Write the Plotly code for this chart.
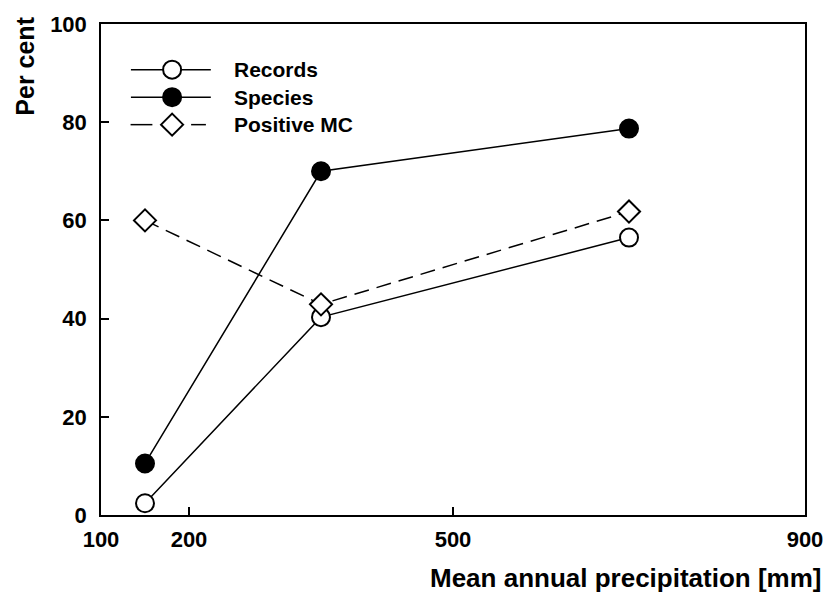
import plotly.graph_objects as go

# Data
precip = [150, 350, 700]
records = [2.4, 40.3, 56.5]
species = [10.5, 70.0, 78.7]
positive_mc = [60.0, 42.9, 61.8]

x_ticks = [100, 200, 500, 900]
y_ticks = [0, 20, 40, 60, 80, 100]

legend_names = ["Records", "Species", "Positive MC"]

FONT = "Liberation Sans, Arial, Helvetica, sans-serif"
BLACK = "black"

fig = go.Figure()

line_w = 1.5
mk_line = dict(color=BLACK, width=2)

fig.add_trace(go.Scatter(x=precip, y=records, mode="lines+markers",
                         line=dict(color=BLACK, width=line_w),
                         marker=dict(symbol="circle", size=18, color="white", line=mk_line),
                         showlegend=False, cliponaxis=False))
fig.add_trace(go.Scatter(x=precip, y=species, mode="lines+markers",
                         line=dict(color=BLACK, width=line_w),
                         marker=dict(symbol="circle", size=18, color=BLACK, line=mk_line),
                         showlegend=False, cliponaxis=False))
fig.add_trace(go.Scatter(x=precip, y=positive_mc, mode="lines+markers",
                         line=dict(color=BLACK, width=line_w, dash="15px,8px"),
                         marker=dict(symbol="diamond", size=17, color="white", line=mk_line),
                         showlegend=False, cliponaxis=False))

# Custom legend drawn on an overlay axis (0..1 over the plot area)
leg_y = [0.907, 0.851, 0.795]
leg_xm = 0.101
leg_lines = [
    ([0.0425, 0.156], [True, True]),
    ([0.0425, 0.156], [True, True]),
    ([0.042, 0.073, None, 0.128, 0.149], None),
]
marker_styles = [
    dict(symbol="circle", size=18, color="white", line=mk_line),
    dict(symbol="circle", size=18, color=BLACK, line=mk_line),
    dict(symbol="diamond", size=17, color="white", line=mk_line),
]
for ly, (lx, _), ms, name in zip(leg_y, leg_lines, marker_styles, legend_names):
    fig.add_trace(go.Scatter(x=lx, y=[ly if v is not None else None for v in lx], mode="lines",
                             line=dict(color=BLACK, width=line_w), connectgaps=False,
                             xaxis="x2", yaxis="y2", showlegend=False, hoverinfo="skip"))
    fig.add_trace(go.Scatter(x=[leg_xm], y=[ly], mode="markers", marker=ms,
                             xaxis="x2", yaxis="y2", showlegend=False, hoverinfo="skip"))
    fig.add_annotation(x=0.186, y=ly, xref="paper", yref="paper", text=name,
                       showarrow=False, xanchor="left", yanchor="middle",
                       font=dict(family=FONT, size=21, color=BLACK, weight="bold"))

fig.update_layout(
    width=835, height=599,
    margin=dict(l=101, r=22, t=20, b=84),
    paper_bgcolor="white", plot_bgcolor="white",
    showlegend=False,
    xaxis=dict(range=[100, 900], tickvals=x_ticks, ticktext=[str(v) for v in x_ticks],
               ticks="inside", ticklen=8, tickwidth=1.5, tickcolor=BLACK,
               showline=True, linecolor=BLACK, linewidth=1.5, mirror=True,
               showgrid=False, zeroline=False,
               tickfont=dict(family=FONT, size=22, color=BLACK, weight="bold"),
               ticklabelstandoff=4),
    yaxis=dict(range=[0, 100], tickvals=y_ticks,
               ticks="inside", ticklen=8, tickwidth=1.5, tickcolor=BLACK,
               showline=True, linecolor=BLACK, linewidth=1.5, mirror=True,
               showgrid=False, zeroline=False,
               tickfont=dict(family=FONT, size=22, color=BLACK, weight="bold"),
               ticklabelstandoff=8),
    xaxis2=dict(range=[0, 1], overlaying="x", visible=False, fixedrange=True),
    yaxis2=dict(range=[0, 1], overlaying="y", visible=False, fixedrange=True),
)

fig.add_annotation(x=0.746, y=-0.128, xref="paper", yref="paper", text="Mean annual precipitation [mm]",
                   showarrow=False, xanchor="center", yanchor="middle",
                   font=dict(family=FONT, size=26, color=BLACK, weight="bold"))
fig.add_annotation(x=-0.108, y=0.915, xref="paper", yref="paper", text="Per cent",
                   showarrow=False, textangle=-90, xanchor="center", yanchor="middle",
                   font=dict(family=FONT, size=25, color=BLACK, weight="bold"))

fig.write_html("out.html")
